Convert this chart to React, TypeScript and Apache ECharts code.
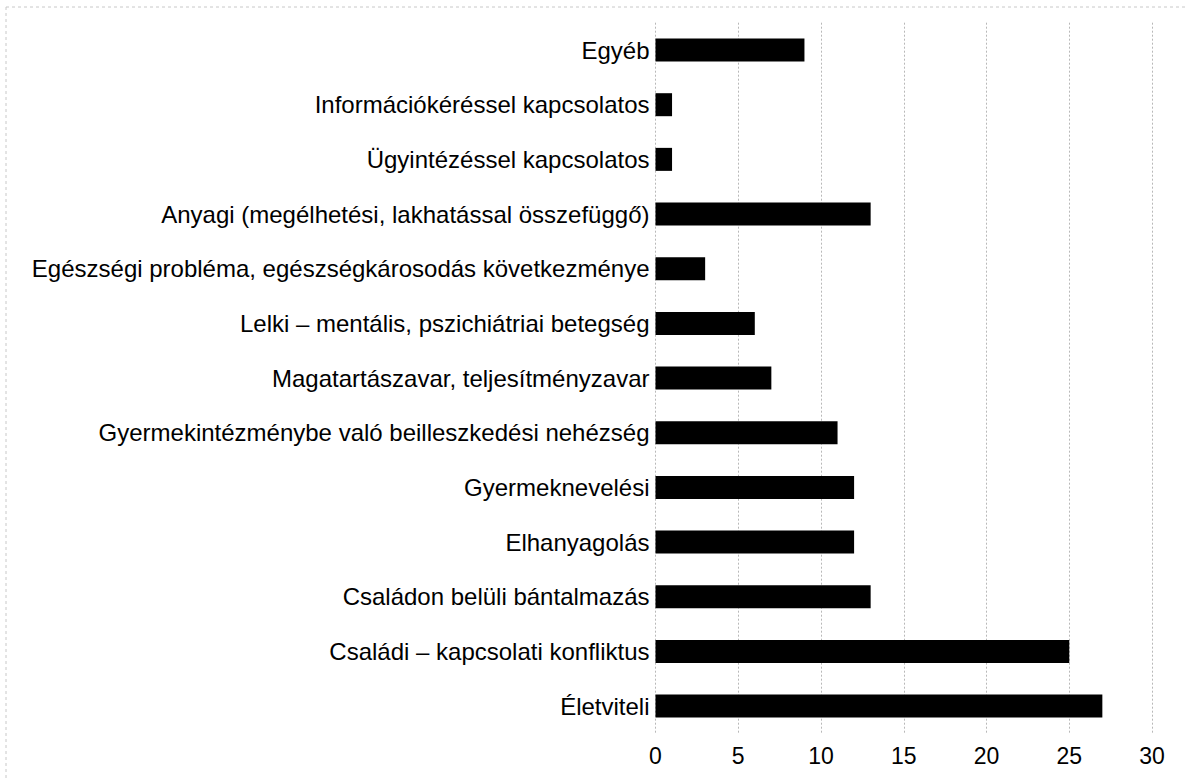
import React, { useEffect, useRef } from "react";
import * as echarts from "echarts";

const categories = [
  "Életviteli",
  "Családi – kapcsolati konfliktus",
  "Családon belüli bántalmazás",
  "Elhanyagolás",
  "Gyermeknevelési",
  "Gyermekintézménybe való beilleszkedési nehézség",
  "Magatartászavar, teljesítményzavar",
  "Lelki – mentális, pszichiátriai betegség",
  "Egészségi probléma, egészségkárosodás következménye",
  "Anyagi (megélhetési, lakhatással összefüggő)",
  "Ügyintézéssel kapcsolatos",
  "Információkéréssel kapcsolatos",
  "Egyéb",
];
const values = [27, 25, 13, 12, 12, 11, 7, 6, 3, 13, 1, 1, 9];
const xTicks = { min: 0, max: 30, interval: 5 };

export default function App() {
  const ref = useRef<HTMLDivElement>(null);
  useEffect(() => {
    if (!ref.current) return;
    const chart = echarts.init(ref.current, undefined, { renderer: "svg" });
    const font = "Liberation Sans, Arial, sans-serif";
    chart.setOption({
      animation: false,
      backgroundColor: "#ffffff",
      grid: { left: 655.5, right: 34, top: 22.7, bottom: 46.6, containLabel: false },
      xAxis: {
        type: "value",
        min: xTicks.min,
        max: xTicks.max,
        interval: xTicks.interval,
        axisLine: { show: false },
        axisTick: { show: false },
        splitLine: { show: true, lineStyle: { color: "#b8b8b8", type: [2, 2], width: 1 } },
        axisLabel: { color: "#000", fontSize: 23, fontFamily: font, margin: 11 },
      },
      yAxis: {
        type: "category",
        data: categories,
        axisLine: { show: false },
        axisTick: { show: false },
        axisLabel: { color: "#000", fontSize: 24, fontFamily: font, margin: 6 },
      },
      series: [
        {
          type: "bar",
          data: values,
          barWidth: 23,
          itemStyle: { color: "#000" },
        },
      ],
      graphic: [
        {
          type: "line",
          shape: { x1: 6, y1: 7, x2: 1186, y2: 7 },
          style: { stroke: "#c8c8c8", lineWidth: 1, lineDash: [3, 3] },
        },
        {
          type: "line",
          shape: { x1: 6, y1: 7, x2: 6, y2: 780 },
          style: { stroke: "#c8c8c8", lineWidth: 1, lineDash: [3, 3] },
        },
      ],
    });
    return () => chart.dispose();
  }, []);
  return (
    <div
      ref={ref}
      style={{ position: "absolute", left: 0, top: 0, width: 1186, height: 780 }}
    />
  );
}
